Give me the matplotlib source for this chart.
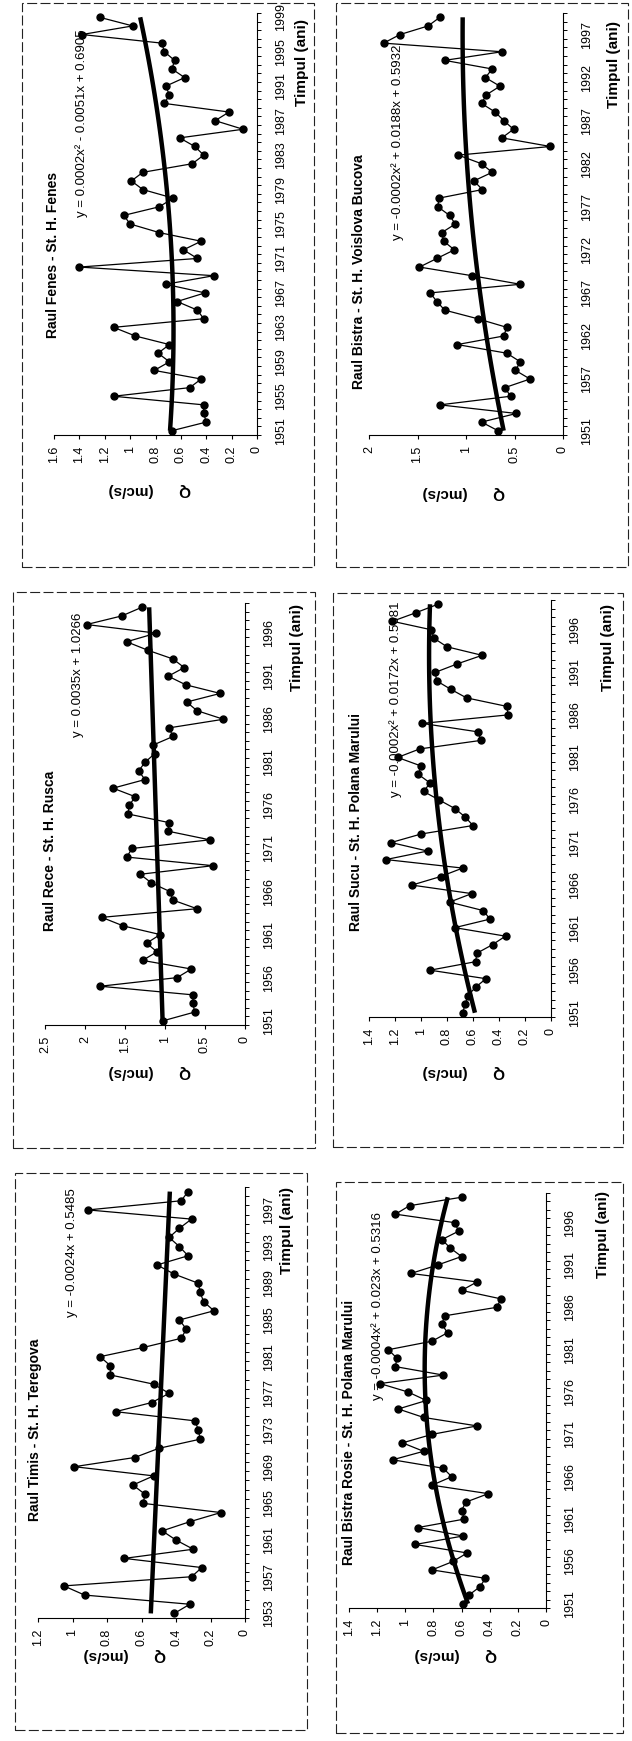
import numpy as np
import matplotlib.pyplot as plt
from matplotlib.patches import Rectangle
from matplotlib.ticker import FixedLocator, FuncFormatter

plt.rcParams['font.family'] = ['Liberation Sans', 'DejaVu Sans']

W, H = 632, 1741

# debite medii anuale, Q (mc/s)
ani_fenes = list(range(1951, 2000))
q_fenes = [0.67, 0.40, 0.42, 0.42, 1.13, 0.53, 0.44, 0.81, 0.69, 0.78,
           0.69, 0.96, 1.13, 0.42, 0.47, 0.63, 0.41, 0.72, 0.34, 1.40,
           0.47, 0.58, 0.44, 0.77, 1.00, 1.05, 0.77, 0.66, 0.90, 0.99,
           0.90, 0.51, 0.42, 0.49, 0.61, 0.11, 0.33, 0.22, 0.73, 0.69,
           0.72, 0.57, 0.67, 0.65, 0.73, 0.75, 1.38, 0.98, 1.24]

ani_voislova = list(range(1951, 2000))
q_voislova = [0.67, 0.84, 0.48, 1.27, 0.54, 0.60, 0.34, 0.49, 0.44, 0.58,
              1.09, 0.61, 0.58, 0.88, 1.22, 1.30, 1.37, 0.44, 0.94, 1.48,
              1.30, 1.12, 1.23, 1.25, 1.11, 1.17, 1.29, 1.28, 0.83, 0.92,
              0.73, 0.84, 1.08, 0.13, 0.63, 0.51, 0.61, 0.70, 0.84, 0.79,
              0.65, 0.80, 0.73, 1.22, 0.63, 1.85, 1.68, 1.39, 1.27]

ani_rece = list(range(1951, 2000))
q_rece = [1.02, 0.63, 0.65, 0.65, 1.81, 0.85, 0.67, 1.28, 1.10, 1.23,
          1.06, 1.52, 1.79, 0.60, 0.90, 0.94, 1.17, 1.31, 0.40, 1.48,
          1.41, 0.44, 0.96, 0.95, 1.46, 1.45, 1.37, 1.65, 1.25, 1.33,
          1.25, 1.13, 1.15, 0.90, 0.95, 0.27, 0.60, 0.73, 0.31, 0.74,
          0.96, 0.76, 0.90, 1.21, 1.48, 1.11, 1.98, 1.54, 1.29]

ani_sucu = list(range(1951, 2000))
q_sucu = [0.68, 0.66, 0.64, 0.58, 0.50, 0.93, 0.58, 0.57, 0.45, 0.35,
          0.74, 0.47, 0.52, 0.78, 0.61, 1.07, 0.85, 0.68, 1.27, 0.95,
          1.23, 1.00, 0.60, 0.66, 0.74, 0.86, 0.98, 0.93, 1.02, 1.00,
          1.18, 1.01, 0.54, 0.56, 0.99, 0.33, 0.34, 0.65, 0.77, 0.88,
          0.89, 0.72, 0.53, 0.80, 0.90, 0.92, 1.22, 1.04, 0.87]

ani_timis = list(range(1953, 2000))
q_timis = [0.41, 0.32, 0.93, 1.05, 0.31, 0.25, 0.70, 0.30, 0.40, 0.48,
           0.32, 0.14, 0.59, 0.58, 0.65, 0.53, 0.99, 0.64, 0.50, 0.26,
           0.27, 0.29, 0.75, 0.54, 0.44, 0.53, 0.78, 0.78, 0.84, 0.59,
           0.37, 0.34, 0.38, 0.18, 0.24, 0.26, 0.27, 0.41, 0.51, 0.33,
           0.38, 0.44, 0.38, 0.31, 0.91, 0.37, 0.33]

ani_rosie = list(range(1951, 2000))
q_rosie = [0.59, 0.55, 0.47, 0.43, 0.81, 0.66, 0.56, 0.93, 0.59, 0.91,
           0.58, 0.60, 0.57, 0.41, 0.81, 0.67, 0.73, 1.09, 0.87, 1.02,
           0.81, 0.49, 0.87, 1.05, 0.85, 0.98, 1.18, 0.73, 1.07, 1.06,
           1.12, 0.81, 0.70, 0.74, 0.72, 0.35, 0.32, 0.60, 0.49, 0.96,
           0.77, 0.60, 0.68, 0.74, 0.62, 0.65, 1.07, 0.97, 0.60]

# coeficientii liniei de tendinta (x = 1, 2, 3 ...), grad descrescator
coef_fenes = [0.0002, -0.0051, 0.6905]
coef_voislova = [-0.0002, 0.0188, 0.5932]
coef_rece = [0.0035, 1.0266]
coef_sucu = [-0.0002, 0.0172, 0.5681]
coef_timis = [-0.0024, 0.5485]
coef_rosie = [-0.0004, 0.023, 0.5316]

eq_fenes = 'y = 0.0002x\u00b2 - 0.0051x + 0.6905'
eq_voislova = 'y = -0.0002x\u00b2 + 0.0188x + 0.5932'
eq_rece = 'y = 0.0035x + 1.0266'
eq_sucu = 'y = -0.0002x\u00b2 + 0.0172x + 0.5681'
eq_timis = 'y = -0.0024x + 0.5485'
eq_rosie = 'y = -0.0004x\u00b2 + 0.023x + 0.5316'

titlu_fenes = 'Raul Fenes - St. H. Fenes'
titlu_voislova = 'Raul Bistra - St. H. Voislova Bucova'
titlu_rece = 'Raul Rece - St. H. Rusca'
titlu_sucu = 'Raul Sucu - St. H. Polana Marului'
titlu_timis = 'Raul Timis - St. H. Teregova'
titlu_rosie = 'Raul Bistra Rosie - St. H. Polana Marului'

# etichetele axei timpului
et_fenes = list(range(1951, 2000, 4))
et_voislova = [1951, 1957, 1962, 1967, 1972, 1977, 1982, 1987, 1992, 1997]
et_rece = list(range(1951, 1997, 5))
et_sucu = list(range(1951, 1997, 5))
et_timis = list(range(1953, 1998, 4))
et_rosie = list(range(1951, 1997, 5))

# pozitii in pixeli: cadru, zona graficului, titlu, ecuatie, etichete axe
panouri = [
    dict(ani=ani_fenes, q=q_fenes, coef=coef_fenes, eq=eq_fenes, titlu=titlu_fenes,
         et=et_fenes, qmax=1.6, qpas=0.2,
         cadru=(22, 3, 314, 567), zona=(54, 13, 257, 435),
         t_xy=(53, 255), eq_xy=(82, 217), timp_xy=(302, 63), q_xy=(150, 490)),
    dict(ani=ani_voislova, q=q_voislova, coef=coef_voislova, eq=eq_voislova,
         titlu=titlu_voislova, et=et_voislova, qmax=2.0, qpas=0.5,
         cadru=(336, 3, 628, 567), zona=(369, 13, 563, 435),
         t_xy=(359, 272), eq_xy=(398, 240), timp_xy=(614, 65), q_xy=(464, 493)),
    dict(ani=ani_rece, q=q_rece, coef=coef_rece, eq=eq_rece, titlu=titlu_rece,
         et=et_rece, qmax=2.5, qpas=0.5,
         cadru=(13, 592, 315, 1148), zona=(45, 603, 245, 1025),
         t_xy=(50, 851), eq_xy=(78, 737), timp_xy=(297, 647), q_xy=(150, 1072)),
    dict(ani=ani_sucu, q=q_sucu, coef=coef_sucu, eq=eq_sucu, titlu=titlu_sucu,
         et=et_sucu, qmax=1.4, qpas=0.2,
         cadru=(333, 593, 623, 1147), zona=(369, 600, 551, 1017),
         t_xy=(356, 822), eq_xy=(396, 797), timp_xy=(608, 647), q_xy=(464, 1072)),
    dict(ani=ani_timis, q=q_timis, coef=coef_timis, eq=eq_timis, titlu=titlu_timis,
         et=et_timis, qmax=1.2, qpas=0.2,
         cadru=(15, 1173, 307, 1730), zona=(38, 1187, 245, 1618),
         t_xy=(35, 1430), eq_xy=(72, 1317), timp_xy=(287, 1230), q_xy=(125, 1655)),
    dict(ani=ani_rosie, q=q_rosie, coef=coef_rosie, eq=eq_rosie, titlu=titlu_rosie,
         et=et_rosie, qmax=1.4, qpas=0.2,
         cadru=(336, 1182, 623, 1733), zona=(349, 1193, 546, 1608),
         t_xy=(349, 1432), eq_xy=(378, 1400), timp_xy=(603, 1235), q_xy=(456, 1655)),
]


def fx(x):
    return x / W


def fy(y):
    return 1 - y / H


fig = plt.figure(figsize=(W / 100, H / 100), dpi=100)
fig.patch.set_facecolor('white')

for p in panouri:
    x0, y0, x1, y1 = p['cadru']
    fig.add_artist(Rectangle((fx(x0), fy(y1)), (x1 - x0) / W, (y1 - y0) / H,
                             transform=fig.transFigure, fill=False,
                             lw=0.8, ls=(0, (9, 3)), ec='#222222'))

    a0, b0, a1, b1 = p['zona']
    ax = fig.add_axes([fx(a0), fy(b1), (a1 - a0) / W, (b1 - b0) / H])
    ax.patch.set_alpha(0)

    ani = np.array(p['ani'])
    q = np.array(p['q'])
    x = np.arange(1, len(ani) + 1)
    tendinta = np.polyval(p['coef'], x)

    ax.plot(q, ani, color='black', lw=0.9, marker='o', ms=5, zorder=2)
    ax.plot(tendinta, ani, color='black', lw=3.2, zorder=3,
            solid_capstyle='butt')

    ax.set_xlim(p['qmax'], 0)
    ax.set_ylim(ani[0] - 0.5, ani[-1] + 0.5)

    for s in ('left', 'top'):
        ax.spines[s].set_visible(False)
    for s in ('right', 'bottom'):
        ax.spines[s].set_linewidth(0.8)

    # axa debitului (jos)
    ax.xaxis.set_major_locator(FixedLocator(np.arange(0, p['qmax'] + 1e-9, p['qpas'])))
    ax.xaxis.set_major_formatter(FuncFormatter(lambda v, pos: f'{v:g}'))
    ax.tick_params(axis='x', labelsize=9, length=3, width=0.8, pad=5,
                   labelrotation=90)

    # axa timpului (dreapta)
    ax.yaxis.tick_right()
    ax.set_yticks(p['et'])
    ax.set_yticklabels([str(a) for a in p['et']], rotation=90,
                       va='center', ha='left')
    ax.set_yticks(np.arange(ani[0] - 0.5, ani[-1] + 1, 1), minor=True)
    ax.tick_params(axis='y', which='major', length=0, pad=13, labelsize=9)
    ax.tick_params(axis='y', which='minor', length=3, width=0.7,
                   right=True, left=False)

    tx, ty = p['t_xy']
    fig.text(fx(tx), fy(ty), p['titlu'], rotation=90, ha='center', va='center',
             fontsize=10, fontweight='bold')
    ex, ey = p['eq_xy']
    fig.text(fx(ex), fy(ey), p['eq'], rotation=90, rotation_mode='anchor',
             ha='left', va='center', fontsize=9.5)
    mx, my = p['timp_xy']
    fig.text(fx(mx), fy(my), 'Timpul (ani)', rotation=90, ha='center',
             va='center', fontsize=11, fontweight='bold')
    qx, qy = p['q_xy']
    fig.text(fx(qx), fy(qy), 'Q      (mc/s)', rotation=180, ha='center',
             va='center', fontsize=11, fontweight='bold')

fig.savefig('out.png', dpi=100, facecolor='white')
